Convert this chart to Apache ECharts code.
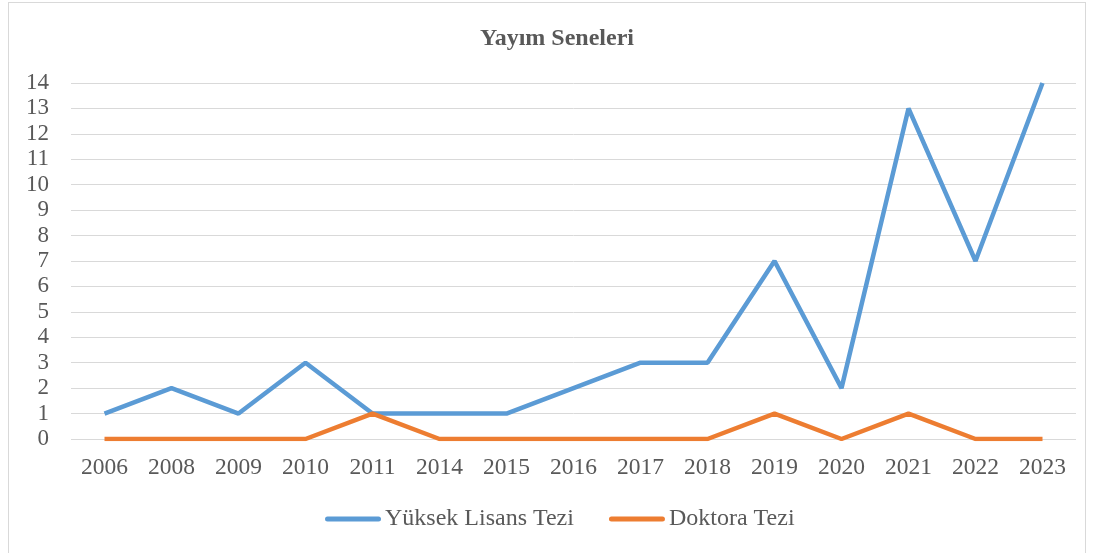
<!DOCTYPE html>
<html>
<head>
<meta charset="utf-8">
<script src="https://cdn.jsdelivr.net/npm/echarts@6/dist/echarts.min.js"></script>
<style>
  html, body { margin: 0; padding: 0; background: #fff; }
  #frame {
    position: absolute; left: 8px; top: 2px; width: 1078px; height: 560px;
    border: 1px solid #d9d9d9; box-sizing: border-box;
  }
  #main { position: absolute; left: 0; top: 0; width: 1093px; height: 553px; }
</style>
</head>
<body>
<div id="frame"></div>
<div id="main"></div>
<script>
  var years = ['2006','2008','2009','2010','2011','2014','2015','2016','2017','2018','2019','2020','2021','2022','2023'];
  var yuksekLisans = [1,2,1,3,1,1,1,2,3,3,7,2,13,7,14];
  var doktora = [0,0,0,0,1,0,0,0,0,0,1,0,1,0,0];

  var font = '"Liberation Serif", "Times New Roman", serif';
  // rounded thick line for legend icons
  var lineIcon = 'path://M2.5,0 L53.5,0 A2.5,2.5 0 0 1 53.5,5 L2.5,5 A2.5,2.5 0 0 1 2.5,0 Z';

  var myChart = echarts.init(document.getElementById('main'));
  myChart.setOption({
    animation: false,
    title: {
      text: 'Yayım Seneleri',
      left: 475,
      top: 22,
      textStyle: { fontFamily: font, fontSize: 24, fontWeight: 'bold', color: '#595959' }
    },
    legend: {
      bottom: 17,
      left: 320,
      itemWidth: 56,
      itemHeight: 5,
      itemGap: 35,
      icon: lineIcon,
      textStyle: { fontFamily: font, fontSize: 24, color: '#595959', padding: [0, 0, 0, -1] },
      data: ['Yüksek Lisans Tezi', 'Doktora Tezi']
    },
    grid: { left: 71, right: 17, top: 83, bottom: 114 },
    xAxis: {
      type: 'category',
      data: years,
      boundaryGap: true,
      axisLine: { show: false },
      axisTick: { show: false },
      axisLabel: { fontFamily: font, fontSize: 23.5, color: '#595959', margin: 17 }
    },
    yAxis: {
      type: 'value',
      min: 0,
      max: 14,
      interval: 1,
      axisLine: { show: false },
      axisTick: { show: false },
      axisLabel: { fontFamily: font, fontSize: 23, color: '#595959', margin: 22 },
      splitLine: { lineStyle: { color: '#d9d9d9', width: 1 } }
    },
    series: [
      {
        name: 'Yüksek Lisans Tezi',
        type: 'line',
        data: yuksekLisans,
        symbol: 'none',
        lineStyle: { color: '#5b9bd5', width: 4.5 },
        itemStyle: { color: '#5b9bd5' }
      },
      {
        name: 'Doktora Tezi',
        type: 'line',
        data: doktora,
        symbol: 'none',
        lineStyle: { color: '#ed7d31', width: 4.5 },
        itemStyle: { color: '#ed7d31' }
      }
    ]
  });
</script>
</body>
</html>
